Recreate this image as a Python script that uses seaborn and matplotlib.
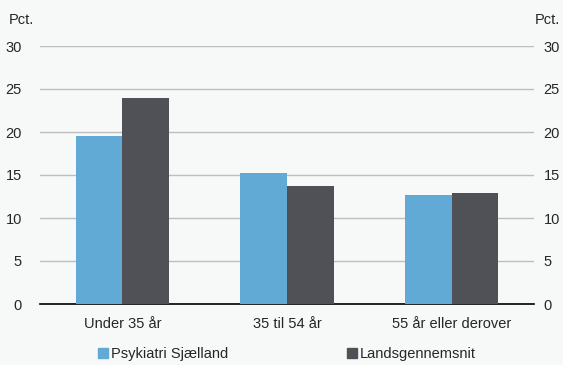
import pandas as pd
import numpy as np
import matplotlib.pyplot as plt
import seaborn as sns

groups = ['Under 35 år', '35 til 54 år', '55 år eller derover']
series = ['Psykiatri Sjælland', 'Landsgennemsnit']
psyk = [19.5, 15.2, 12.7]
lands = [24.0, 13.7, 12.9]
colors = ['#62AAD6', '#505157']

df = pd.DataFrame({
    'gruppe': groups * 2,
    'serie': [series[0]] * 3 + [series[1]] * 3,
    'pct': psyk + lands,
})

sns.set_style('white')
plt.rcParams['font.family'] = ['Liberation Sans', 'DejaVu Sans']
plt.rcParams['font.size'] = 10.5

bg = '#F7F8F8'
fig = plt.figure(figsize=(5.63, 3.65), dpi=100, facecolor=bg)
ax = fig.add_axes([40/563, 61/365, 494/563, 258/365])
ax.set_facecolor(bg)

sns.barplot(data=df, x='gruppe', y='pct', hue='serie', palette=colors,
            width=0.565, saturation=1, ax=ax, legend=False, zorder=3)
for p in ax.patches:
    p.set_edgecolor('none')

ax.set_ylim(0, 30)
ax.set_yticks(np.arange(0, 31, 5))
ax.set_xlim(-0.5, 2.5)
ax.yaxis.grid(True, color='#BEBEBE', lw=1)
ax.set_axisbelow(True)
for s in ['top', 'right', 'left']:
    ax.spines[s].set_visible(False)
ax.spines['bottom'].set_color('black')
ax.spines['bottom'].set_linewidth(1.2)
ax.set_xticks([-0.5, 0.5, 1.5, 2.5], minor=True)
ax.tick_params(axis='x', which='minor', length=4, width=1.2, color='black')
ax.tick_params(axis='x', which='major', length=0, pad=9)
ax.tick_params(axis='y', length=0, pad=13)

ax.set_xlabel('')
ax.set_ylabel('')

ax2 = ax.twinx()
ax2.set_ylim(0, 30)
ax2.set_yticks(np.arange(0, 31, 5))
ax2.tick_params(axis='y', length=0, pad=7)
for s in ax2.spines.values():
    s.set_visible(False)

fig.text(9/563, 1 - 20/365, 'Pct.', ha='left', va='center')
fig.text(535/563, 1 - 20/365, 'Pct.', ha='left', va='center')

handles = [plt.Rectangle((0, 0), 1, 1, color=c) for c in colors]
fig.legend(handles, series, loc='center', bbox_to_anchor=(287/563, 1 - 354/365),
           ncol=2, frameon=False, handlelength=0.7, handleheight=0.7,
           handletextpad=0.2, columnspacing=8.1)

fig.savefig('out.png', dpi=100, facecolor=bg)
